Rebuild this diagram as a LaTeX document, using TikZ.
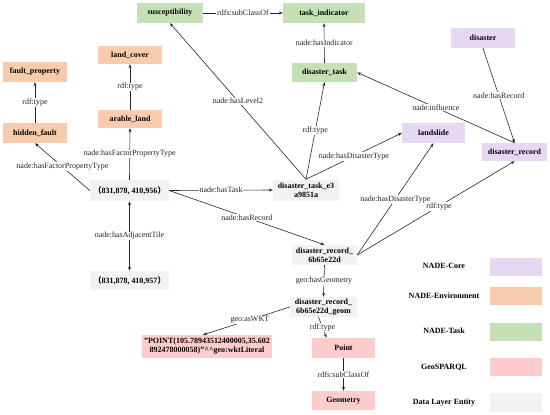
\documentclass[tikz,border=0pt]{standalone}
\usepackage{fontspec}
\setmainfont{Liberation Serif}
\newfontfamily\cjkf{Noto Sans CJK SC}
\usetikzlibrary{arrows.meta}
\definecolor{ccore}{RGB}{230,215,242}
\definecolor{cenv}{RGB}{248,203,173}
\definecolor{ctask}{RGB}{197,224,180}
\definecolor{cgeo}{RGB}{255,204,204}
\definecolor{cdata}{RGB}{242,242,242}
\begin{document}
\begin{tikzpicture}[x=1pt,y=-1pt,
  box/.style={inner sep=0pt, align=center, font=\bfseries\fontsize{8}{9}\selectfont, text=black, minimum width=64pt, minimum height=20pt},
  core/.style={box, fill=ccore},
  env/.style={box, fill=cenv},
  tsk/.style={box, fill=ctask},
  geo/.style={box, fill=cgeo},
  dat/.style={box, fill=cdata},
  legtext/.style={font=\bfseries\fontsize{8}{9}\selectfont, inner sep=0pt},
  legbox/.style={minimum width=52pt, minimum height=18pt, inner sep=0pt},
  lbl/.style={font=\fontsize{8}{9}\selectfont, text=black!85, fill=white, inner sep=0.8pt},
  arr/.style={draw=black!85, line width=0.6pt, -{Stealth[length=4pt,width=3pt]}},
  darr/.style={draw=black!85, line width=0.6pt, {Stealth[length=4pt,width=3pt]}-{Stealth[length=4pt,width=3pt]}}
]
\useasboundingbox (0,0) rectangle (550,415);

% NADE-Task
\node[tsk, minimum width=66pt] (susc) at (170,13) {susceptibility};
\node[tsk, minimum width=82pt] (taskind) at (324,13) {task\_indicator};
\node[tsk, minimum width=65pt, minimum height=19pt] (dtask) at (324.5,72.5) {disaster\_task};
% NADE-Core
\node[core] (disaster) at (483,38) {disaster};
\node[core, minimum width=63pt] (landslide) at (433.5,133) {landslide};
\node[core, minimum width=65pt, minimum height=18pt] (drec) at (514.5,152) {disaster\_record};
% NADE-Environment
\node[env] (faultp) at (35,72) {fault\_property};
\node[env] (hfault) at (35,133) {hidden\_fault};
\node[env, minimum height=18pt] (landc) at (130,55) {land\_cover};
\node[env, minimum height=18pt] (arable) at (130,119) {arable\_land};
% Data layer
\node[dat, minimum width=79pt, minimum height=21pt] (tile1) at (129.5,190.5) {{\cjkf （}831,878, 410,956{\cjkf ）}};
\node[dat, minimum width=66pt, minimum height=21pt] (e3) at (306,190) {disaster\_task\_e3\\a9851a};
\node[dat, minimum width=79pt, minimum height=19pt] (tile2) at (129.5,280.5) {{\cjkf （}831,878, 410,957{\cjkf ）}};
\node[dat, minimum width=65pt] (rec6b) at (324.5,255) {disaster\_record\_\\6b65e22d};
\node[dat, minimum width=67pt] (geom) at (323.5,307) {disaster\_record\_\\6b65e22d\_geom};
% GeoSPARQL
\node[geo, minimum width=130pt, minimum height=23pt] (wkt) at (207,346.5) {"POINT(105.78943512400005,35.602\\892478000058)"\textasciicircum\textasciicircum geo:wktLiteral};
\node[geo, minimum width=63pt] (point) at (343.5,348) {Point};
\node[geo, minimum width=63pt, minimum height=19pt] (geometry) at (343.5,400.5) {Geometry};

% connectors
\draw[arr] (susc.east) -- node[lbl]{rdfs:subClassOf} (taskind.west);
\draw[arr] (dtask.north) -- node[lbl]{nade:hasIndicator} (taskind.south);
\draw[arr] (e3.north) -- node[lbl]{nade:hasLevel2} (susc.south);
\draw[arr] (e3.north) -- node[lbl]{rdf:type} (dtask.south);
\draw[arr] (e3.north) -- node[lbl]{nade:hasDisasterType} (landslide.west);
\draw[arr] (disaster.south) -- node[lbl]{nade:hasRecord} (drec.north);
\draw[arr] (drec.north) -- node[lbl]{nade:influence} (dtask.east);
\draw[arr] (arable.north) -- node[lbl]{rdf:type} (landc.south);
\draw[arr] (hfault.north) -- node[lbl]{rdf:type} (faultp.south);
\draw[arr] (tile1.north) -- node[lbl]{nade:hasFactorPropertyType} (arable.south);
\draw[arr] (tile1.west) -- node[lbl]{nade:hasFactorPropertyType} (hfault.south);
\draw[arr] (tile1.east) -- node[lbl]{nade:hasTask} (e3.west);
\draw[arr] (tile1.east) -- node[lbl]{nade:hasRecord} (rec6b.north);
\draw[darr] (tile1.south) -- node[lbl]{nade:hasAdjacentTile} (tile2.north);
\draw[arr] (rec6b.east) -- node[lbl]{nade:hasDisasterType} (landslide.south);
\draw[arr] (rec6b.east) -- node[lbl, pos=0.52]{rdf:type} (drec.south);
\draw[arr] (rec6b.south) -- node[lbl]{geo:hasGeometry} (geom.north);
\draw[arr] (geom.west) -- node[lbl, pos=0.46]{geo:asWKT} ([xshift=-4pt]wkt.north);
\draw[arr] ([xshift=-5pt]geom.south) -- node[lbl]{rdf:type} ([xshift=-17pt]point.north);
\draw[arr] (point.south) -- node[lbl]{rdfs:subClassOf} (geometry.north);

% legend
\node[legtext] (lt1) at (444,266) {NADE-Core};
\node[legtext] (lt2) at (444,296) {NADE-Environment};
\node[legtext] (lt3) at (444,331) {NADE-Task};
\node[legtext] (lt4) at (444,367) {GeoSPARQL};
\node[legtext] (lt5) at (444,403) {Data Layer Entity};
\node[legbox, fill=ccore] (lb1) at (516,266.5) {};
\node[legbox, fill=cenv] (lb2) at (516,296) {};
\node[legbox, fill=ctask] (lb3) at (516,331.5) {};
\node[legbox, fill=cgeo] (lb4) at (516,367) {};
\node[legbox, fill=cdata, minimum height=19pt] (lb5) at (516,402.5) {};
\end{tikzpicture}
\end{document}
